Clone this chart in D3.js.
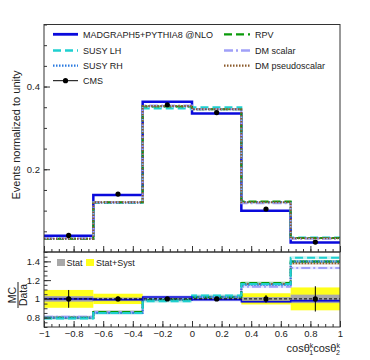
<!DOCTYPE html>
<html>
<head>
<meta charset="utf-8">
<script src="https://cdn.jsdelivr.net/npm/d3@7"></script>
<style>
  body { margin: 0; background: #fff; }
  text { font-family: "Liberation Sans", Arial, Helvetica, sans-serif; fill: #222; }
</style>
</head>
<body>
<svg id="chart" width="370" height="360"></svg>
<script>
// bin edges of cos(theta1)cos(theta2)
var edges = [-1, -2/3, -1/3, 0, 1/3, 2/3, 1];

// normalized distributions (top panel)
var cmsData   = [0.040, 0.140, 0.356, 0.337, 0.104, 0.024];
var mg5       = [0.039, 0.138, 0.363, 0.335, 0.100, 0.023];
var susyLH    = [0.032, 0.119, 0.347, 0.350, 0.121, 0.035];
var susyRH    = [0.032, 0.119, 0.352, 0.345, 0.120, 0.034];
var rpv       = [0.032, 0.120, 0.352, 0.345, 0.122, 0.034];
var dmScalar  = [0.033, 0.120, 0.354, 0.345, 0.118, 0.032];
var dmPseudo  = [0.032, 0.120, 0.353, 0.345, 0.120, 0.033];

// MC / Data ratios (bottom panel)
var ratioMg5      = [1.00, 0.99, 1.02, 0.99, 0.97, 0.98];
var ratioSusyLH   = [0.79, 0.85, 0.975, 1.035, 1.16, 1.44];
var ratioSusyRH   = [0.80, 0.85, 0.99, 1.02, 1.15, 1.40];
var ratioRpv      = [0.80, 0.86, 0.99, 1.02, 1.17, 1.40];
var ratioDmScalar = [0.81, 0.86, 1.00, 1.02, 1.13, 1.33];
var ratioDmPseudo = [0.80, 0.86, 0.995, 1.02, 1.16, 1.38];

var dataErr   = [0.095, 0.025, 0.010, 0.010, 0.040, 0.135];
var statUnc   = [0.030, 0.015, 0.008, 0.008, 0.020, 0.045];
var systUnc   = [0.095, 0.055, 0.012, 0.012, 0.060, 0.122];

var topYTicks = [0.2, 0.4];
var ratioYTicks = [0.8, 1, 1.2, 1.4];
var xTicks = [-1, -0.8, -0.6, -0.4, -0.2, 0, 0.2, 0.4, 0.6, 0.8, 1];

var models = [
  {name: "MADGRAPH5+PYTHIA8 @NLO", top: mg5, ratio: ratioMg5, color: "#0a0adc", dash: null, w: 2.5, col: 0, row: 0},
  {name: "SUSY LH", top: susyLH, ratio: ratioSusyLH, color: "#1fd0d0", dash: "8,4", w: 2, col: 0, row: 1},
  {name: "SUSY RH", top: susyRH, ratio: ratioSusyRH, color: "#2a7ae0", dash: "1.5,1.5", w: 2, col: 0, row: 2},
  {name: "RPV", top: rpv, ratio: ratioRpv, color: "#0a9a0a", dash: "8,4", w: 2, col: 1, row: 0},
  {name: "DM scalar", top: dmScalar, ratio: ratioDmScalar, color: "#a0a0f8", dash: "9,3,2,3", w: 2, col: 1, row: 1},
  {name: "DM pseudoscalar", top: dmPseudo, ratio: ratioDmPseudo, color: "#8b5a2b", dash: "1.5,1.5", w: 2, col: 1, row: 2}
];

var svg = d3.select("#chart");
var left = 44, right = 340, topY = 24.5, mid = 252, bottom = 327;

var x = d3.scaleLinear().domain([-1, 1]).range([left, right]);
var y = d3.scaleLinear().domain([0, 0.55]).range([mid, topY]);
var yr = d3.scaleLinear().domain([0.7, 1.5]).range([bottom, mid]);

var centers = d3.range(6).map(i => (edges[i] + edges[i + 1]) / 2);

function steps(vals) {
  return edges.map((e, i) => [e, vals[Math.min(i, vals.length - 1)]]);
}

var stepTop = d3.line().x(d => x(d[0])).y(d => y(d[1])).curve(d3.curveStepAfter);
var stepRatio = d3.line().x(d => x(d[0])).y(d => yr(d[1])).curve(d3.curveStepAfter);

// ---------- top panel ----------
var topG = svg.append("g");

models.forEach(m => {
  topG.append("path")
    .attr("d", stepTop(steps(m.top)))
    .attr("fill", "none")
    .attr("stroke", m.color)
    .attr("stroke-width", m.w)
    .attr("stroke-dasharray", m.dash);
});

topG.selectAll("circle.cms")
  .data(cmsData)
  .enter()
  .append("circle")
  .attr("cx", (d, i) => x(centers[i]))
  .attr("cy", d => y(d))
  .attr("r", 2.6)
  .attr("fill", "#000");

// ---------- ratio panel ----------
var bot = svg.append("g");

bot.selectAll("rect.syst")
  .data(systUnc)
  .enter()
  .append("rect")
  .attr("x", (d, i) => x(edges[i]))
  .attr("width", (d, i) => x(edges[i + 1]) - x(edges[i]))
  .attr("y", d => yr(1 + d))
  .attr("height", d => yr(1 - d) - yr(1 + d))
  .attr("fill", "#ffff1a");

bot.selectAll("rect.stat")
  .data(statUnc)
  .enter()
  .append("rect")
  .attr("x", (d, i) => x(edges[i]))
  .attr("width", (d, i) => x(edges[i + 1]) - x(edges[i]))
  .attr("y", d => yr(1 + d))
  .attr("height", d => yr(1 - d) - yr(1 + d))
  .attr("fill", "#a8a8a8");

// faint bands round each model, then the lines
models.slice().reverse().forEach(m => {
  bot.selectAll(null)
    .data(m.ratio)
    .enter()
    .append("rect")
    .attr("x", (d, i) => x(edges[i]))
    .attr("width", (d, i) => x(edges[i + 1]) - x(edges[i]))
    .attr("y", d => yr(d + 0.015))
    .attr("height", d => yr(d - 0.015) - yr(d + 0.015))
    .attr("fill", m.color)
    .attr("opacity", 0.25);
});
models.slice().reverse().forEach(m => {
  bot.append("path")
    .attr("d", stepRatio(steps(m.ratio)))
    .attr("fill", "none")
    .attr("stroke", m.color)
    .attr("stroke-width", m.name == "MADGRAPH5+PYTHIA8 @NLO" ? 1.5 : 2)
    .attr("stroke-dasharray", m.dash);
});

bot.append("line")
  .attr("x1", x(-1)).attr("x2", x(1))
  .attr("y1", yr(1)).attr("y2", yr(1))
  .attr("stroke", "#000")
  .attr("stroke-width", 1)
  .attr("stroke-dasharray", "3,2");

bot.selectAll("line.err")
  .data(dataErr)
  .enter()
  .append("line")
  .attr("x1", (d, i) => x(centers[i])).attr("x2", (d, i) => x(centers[i]))
  .attr("y1", d => yr(1 - d)).attr("y2", d => yr(1 + d))
  .attr("stroke", "#000");

bot.selectAll("circle.pt")
  .data(dataErr)
  .enter()
  .append("circle")
  .attr("cx", (d, i) => x(centers[i]))
  .attr("cy", yr(1))
  .attr("r", 2.6)
  .attr("fill", "#000");

// ---------- axes ----------
var minorX = d3.range(-1, 1.0001, 0.05).map(v => +v.toFixed(2));
var fmt = d3.format("~g");

function xAxes(g, yPos, labels) {
  g.append("g").attr("transform", "translate(0," + yPos + ")")
    .call(d3.axisBottom(x).tickValues(minorX).tickSizeInner(-3).tickSizeOuter(0).tickFormat(""))
    .call(a => a.select(".domain").remove());
  var maj = g.append("g").attr("transform", "translate(0," + yPos + ")")
    .call(d3.axisBottom(x).tickValues(xTicks).tickSizeInner(-6).tickSizeOuter(0).tickPadding(3)
      .tickFormat(labels ? fmt : ""));
  maj.select(".domain").remove();
  maj.selectAll("text").style("font-size", "9.5px").style("fill", "#222").style("font-family", null);
}
xAxes(svg, mid, false);
xAxes(svg, bottom, true);

var minorTopY = d3.range(0, 0.5501, 0.05).map(v => +v.toFixed(2));
svg.append("g").attr("transform", "translate(" + left + ",0)")
  .call(d3.axisLeft(y).tickValues(minorTopY).tickSizeInner(-3).tickSizeOuter(0).tickFormat(""))
  .call(a => a.select(".domain").remove());
var yMaj = svg.append("g").attr("transform", "translate(" + left + ",0)")
  .call(d3.axisLeft(y).tickValues(topYTicks).tickSizeInner(-6).tickSizeOuter(0).tickPadding(4).tickFormat(fmt));
yMaj.select(".domain").remove();
yMaj.selectAll("text").style("font-size", "9.5px").style("font-family", null);

var minorRY = d3.range(0.7, 1.5001, 0.05).map(v => +v.toFixed(2));
svg.append("g").attr("transform", "translate(" + left + ",0)")
  .call(d3.axisLeft(yr).tickValues(minorRY).tickSizeInner(-3.5).tickSizeOuter(0).tickFormat(""))
  .call(a => a.select(".domain").remove());
var rMaj = svg.append("g").attr("transform", "translate(" + left + ",0)")
  .call(d3.axisLeft(yr).tickValues(ratioYTicks).tickSizeInner(-7).tickSizeOuter(0).tickPadding(4).tickFormat(fmt));
rMaj.select(".domain").remove();
rMaj.selectAll("text").style("font-size", "9.5px").style("font-family", null);

svg.selectAll(".tick line").attr("stroke", "#333");

// frames
svg.append("rect")
  .attr("x", left).attr("y", topY)
  .attr("width", right - left).attr("height", mid - topY)
  .attr("fill", "none").attr("stroke", "#333").attr("stroke-width", 1);
svg.append("rect")
  .attr("x", left).attr("y", mid)
  .attr("width", right - left).attr("height", bottom - mid)
  .attr("fill", "none").attr("stroke", "#333").attr("stroke-width", 1);

// ---------- legend (top) ----------
var legRows = [34.3, 50.5, 65.7, 80.7];
var legCols = [{x1: 53, x2: 78, tx: 83}, {x1: 224, x2: 250, tx: 255}];

models.forEach(m => {
  var c = legCols[m.col], ry = legRows[m.row];
  svg.append("line")
    .attr("x1", c.x1).attr("x2", c.x2).attr("y1", ry).attr("y2", ry)
    .attr("stroke", m.color).attr("stroke-width", m.w + 0.3)
    .attr("stroke-dasharray", m.dash);
  svg.append("text").attr("x", c.tx).attr("y", ry + 3.3)
    .style("font-size", "9px").text(m.name);
});
svg.append("line")
  .attr("x1", legCols[0].x1).attr("x2", legCols[0].x2)
  .attr("y1", legRows[3]).attr("y2", legRows[3])
  .attr("stroke", "#000").attr("stroke-width", 1);
svg.append("circle")
  .attr("cx", (legCols[0].x1 + legCols[0].x2) / 2).attr("cy", legRows[3])
  .attr("r", 2.6).attr("fill", "#000");
svg.append("text").attr("x", legCols[0].tx).attr("y", legRows[3] + 3.3)
  .style("font-size", "9px").text("CMS");

// ---------- legend (ratio) ----------
svg.append("rect").attr("x", 57).attr("y", 259).attr("width", 8).attr("height", 7).attr("fill", "#a8a8a8");
svg.append("text").attr("x", 66.5).attr("y", 265.5).style("font-size", "9px").text("Stat");
svg.append("rect").attr("x", 86).attr("y", 259).attr("width", 8).attr("height", 7).attr("fill", "#ffff1a");
svg.append("text").attr("x", 96).attr("y", 265.5).style("font-size", "9px").text("Stat+Syst");

// ---------- titles ----------
svg.append("text")
  .attr("transform", "translate(19.5,135) rotate(-90)")
  .attr("text-anchor", "middle")
  .style("font-size", "11px")
  .text("Events normalized to unity");

var frac = svg.append("g").attr("transform", "translate(18,295) rotate(-90)");
frac.append("text").attr("x", 0).attr("y", -2).attr("text-anchor", "middle")
  .style("font-size", "10.5px").text("MC");
frac.append("text").attr("x", 0).attr("y", 8.5).attr("text-anchor", "middle")
  .style("font-size", "10.5px").text("Data");
frac.append("line").attr("x1", -13).attr("x2", 13).attr("y1", 0).attr("y2", 0)
  .attr("stroke", "#222").attr("stroke-width", 1);

var xt = svg.append("text")
  .attr("x", 340).attr("y", 352)
  .attr("text-anchor", "end")
  .style("font-size", "11px");
xt.append("tspan").text("cosθ");
xt.append("tspan").attr("font-size", "7px").attr("dy", -4).text("k");
xt.append("tspan").attr("font-size", "7px").attr("dx", -4).attr("dy", 7).text("1");
xt.append("tspan").attr("dy", -3).text("cosθ");
xt.append("tspan").attr("font-size", "7px").attr("dy", -4).text("k");
xt.append("tspan").attr("font-size", "7px").attr("dx", -4).attr("dy", 7).text("2");
</script>
</body>
</html>
